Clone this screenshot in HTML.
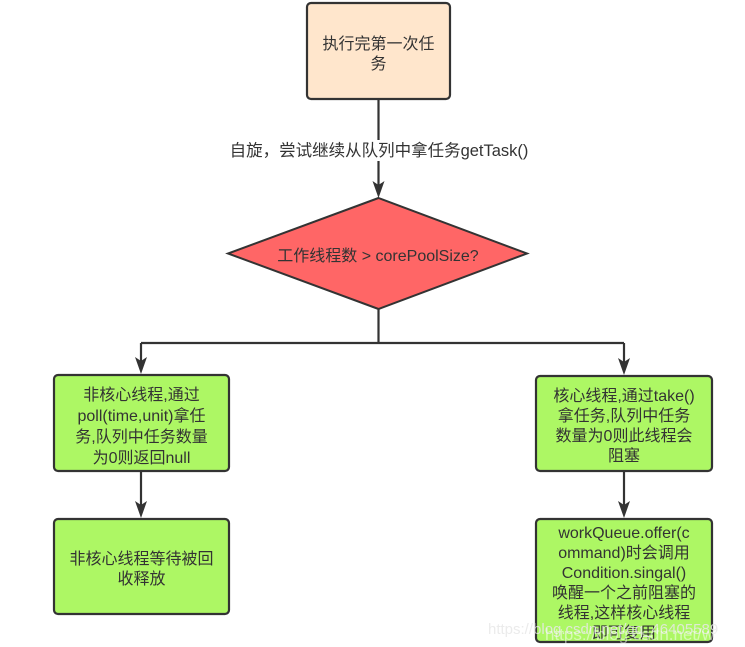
<!DOCTYPE html>
<html>
<head>
<meta charset="utf-8">
<style>
  html,body{margin:0;padding:0;background:#fff;}
  svg{display:block;}
  text{font-family:"Liberation Sans","Noto Sans CJK SC",sans-serif;font-size:16px;fill:#333;}
</style>
</head>
<body>
<svg width="745" height="647" viewBox="0 0 745 647" xmlns="http://www.w3.org/2000/svg">
  <rect width="745" height="647" fill="#fff"/>

  <!-- connectors -->
  <g stroke="#333" stroke-width="2.2" fill="none">
    <line x1="378.5" y1="99" x2="378.5" y2="186"/>
    <line x1="378.5" y1="309" x2="378.5" y2="343"/>
    <line x1="141" y1="343" x2="624" y2="343"/>
    <line x1="141" y1="343" x2="141" y2="362"/>
    <line x1="624" y1="343" x2="624" y2="363"/>
    <line x1="141" y1="471" x2="141" y2="507"/>
    <line x1="624" y1="471" x2="624" y2="507"/>
  </g>
  <g fill="#333">
    <path d="M378.5,198 L372.5,181 L378.5,185 L384.5,181 Z"/>
    <path d="M141,374 L135,357 L141,361 L147,357 Z"/>
    <path d="M624,375 L618,358 L624,362 L630,358 Z"/>
    <path d="M141,518 L135,501 L141,505 L147,501 Z"/>
    <path d="M624,518 L618,501 L624,505 L630,501 Z"/>
  </g>

  <!-- edge label -->
  <rect x="224" y="140" width="310" height="21" fill="#fff"/>
  <text x="379" y="156" text-anchor="middle" style="font-size:16.5px">自旋，尝试继续从队列中拿任务getTask()</text>

  <!-- top box -->
  <rect x="307" y="3" width="143" height="96" rx="4" fill="#FFE6CC" stroke="#333" stroke-width="2.2"/>
  <text x="378.5" y="49" text-anchor="middle">执行完第一次任</text>
  <text x="378.5" y="69" text-anchor="middle">务</text>

  <!-- diamond -->
  <polygon points="378.5,198 527,253.5 378.5,309 228,253.5" fill="#FF6666" stroke="#333" stroke-width="2"/>
  <text x="378" y="261" text-anchor="middle">工作线程数 &gt; corePoolSize?</text>

  <!-- left box 1 -->
  <rect x="54" y="375" width="175" height="96" rx="4" fill="#ADF764" stroke="#333" stroke-width="2.2"/>
  <text x="141.5" y="400" text-anchor="middle">非核心线程,通过</text>
  <text x="141.5" y="421" text-anchor="middle">poll(time,unit)拿任</text>
  <text x="141.5" y="442" text-anchor="middle">务,队列中任务数量</text>
  <text x="141.5" y="463" text-anchor="middle">为0则返回null</text>

  <!-- left box 2 -->
  <rect x="54" y="519" width="175" height="95" rx="4" fill="#ADF764" stroke="#333" stroke-width="2.2"/>
  <text x="141.5" y="564" text-anchor="middle">非核心线程等待被回</text>
  <text x="141.5" y="584" text-anchor="middle">收释放</text>

  <!-- right box 1 -->
  <rect x="536" y="376" width="176" height="95" rx="4" fill="#ADF764" stroke="#333" stroke-width="2.2"/>
  <text x="624" y="401" text-anchor="middle">核心线程,通过take()</text>
  <text x="624" y="421" text-anchor="middle">拿任务,队列中任务</text>
  <text x="624" y="441" text-anchor="middle">数量为0则此线程会</text>
  <text x="624" y="461" text-anchor="middle">阻塞</text>

  <!-- right box 2 -->
  <rect x="536" y="519" width="176" height="123" rx="4" fill="#ADF764" stroke="#333" stroke-width="2.2"/>
  <text x="624" y="538" text-anchor="middle">workQueue.offer(c</text>
  <text x="624" y="558" text-anchor="middle">ommand)时会调用</text>
  <text x="624" y="578" text-anchor="middle">Condition.singal()</text>
  <text x="624" y="598" text-anchor="middle">唤醒一个之前阻塞的</text>
  <text x="624" y="618" text-anchor="middle">线程,这样核心线程</text>
  <text x="624" y="638" text-anchor="middle">即可复用</text>

  <!-- watermark -->
  <text x="488" y="634" style="font-size:15px;fill:#e8e8e8;fill-opacity:0.85">https://blog.csdn.net/qq_46405589</text>
  <text x="545" y="640" style="font-size:17px;fill:#ffffff;fill-opacity:0.5">https://blog.csdn.net/wan</text>
</svg>
</body>
</html>
